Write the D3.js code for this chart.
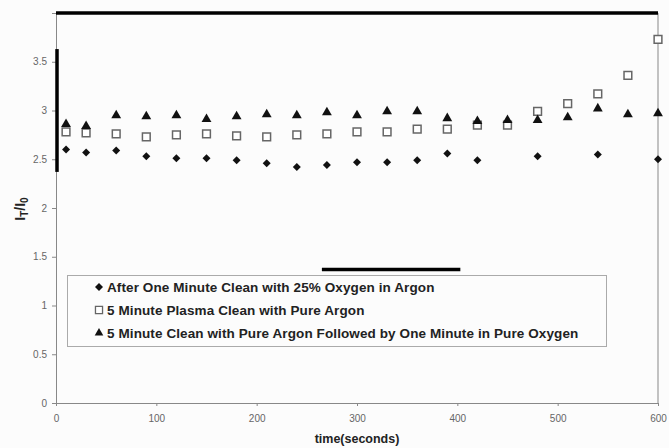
<!DOCTYPE html>
<html>
<head>
<meta charset="utf-8">
<script src="https://cdn.jsdelivr.net/npm/d3@7"></script>
<style>
   body { margin: 0; background: #fcfcfc; }
   svg { display: block; font-family: "Liberation Sans", Arial, sans-serif; }
</style>
</head>
<body>
<script>
"use strict"

// time (seconds) for each reading
const times = [10, 30, 60, 90, 120, 150, 180, 210, 240, 270, 300, 330, 360, 390, 420, 450, 480, 510, 540, 570, 600]
// null = no reading at that time
const oxygenArgon = [2.60, 2.57, 2.59, 2.53, 2.51, 2.51, 2.49, 2.46, 2.42, 2.44, 2.47, 2.47, 2.49, 2.56, 2.49, null, 2.53, null, 2.55, null, 2.50]
const pureArgon = [2.78, 2.77, 2.76, 2.73, 2.75, 2.76, 2.74, 2.73, 2.75, 2.76, 2.78, 2.78, 2.81, 2.81, 2.85, 2.85, 2.99, 3.07, 3.17, 3.36, 3.73]
const argonThenOxygen = [2.86, 2.84, 2.95, 2.94, 2.95, 2.91, 2.94, 2.96, 2.95, 2.98, 2.95, 2.99, 2.99, 2.92, 2.89, 2.90, 2.90, 2.93, 3.02, 2.96, 2.97]

const seriesNames = [
   'After One Minute Clean with 25% Oxygen in Argon',
   '5 Minute Plasma Clean with Pure Argon',
   '5 Minute Clean with Pure Argon Followed by One Minute in Pure Oxygen'
]
const xTicks = [0, 100, 200, 300, 400, 500, 600]
const yTicks = [0, 0.5, 1, 1.5, 2, 2.5, 3, 3.5]

const w = 669
const h = 448
const x_scale = d3.scaleLinear([0, 600], [56, 658])
const y_scale = d3.scaleLinear([0, 4], [403, 13])

let svg = d3.select('body')
   .append('svg')
      .attr('width', w)
      .attr('height', h)

// plot frame (right edge)
svg.append('line')
   .attr('x1', x_scale(600)).attr('x2', x_scale(600))
   .attr('y1', y_scale(4)).attr('y2', y_scale(0))
   .attr('stroke', '#888')

const x_axis = d3.axisBottom(x_scale).tickValues(xTicks).tickSize(3).tickPadding(9)
const y_axis = d3.axisLeft(y_scale).tickValues(yTicks).tickFormat(d => String(d)).tickSize(4).tickPadding(5)

svg.append('g')
   .attr('id', 'x-axis')
   .attr('transform', `translate(0, ${y_scale(0)})`)
   .call(x_axis)

svg.append('g')
   .attr('id', 'y-axis')
   .attr('transform', `translate(${x_scale(0)}, 0)`)
   .call(y_axis)

svg.selectAll('.domain').attr('stroke', '#888')
svg.selectAll('.tick line').attr('stroke', '#888')
svg.selectAll('.tick text')
   .attr('fill', '#666')
   .attr('font-size', 10)

// thick black strokes that sit on the picture
const bars = [
   { x1: 0, x2: 600, y1: 4, y2: 4 },
   { x1: 1, x2: 1, y1: 3.63, y2: 2.37 },
   { x1: 265, x2: 403, y1: 1.37, y2: 1.37 }
]
svg.selectAll('line.bar')
   .data(bars)
   .enter()
   .append('line')
      .attr('class', 'bar')
      .attr('x1', d => x_scale(d.x1))
      .attr('x2', d => x_scale(d.x2))
      .attr('y1', d => y_scale(d.y1))
      .attr('y2', d => y_scale(d.y2))
      .attr('stroke', '#000')
      .attr('stroke-width', 3.5)

const diamond = d3.symbol().type(d3.symbolSquare).size(32)
const square = d3.symbol().type(d3.symbolSquare).size(60)
const triangle = d3.symbol().type(d3.symbolTriangle).size(42)

function points(values, sym, cls, rot) {
   const data = times.map((t, i) => [t, values[i]]).filter(d => d[1] != null)
   let marks = svg.selectAll('path.' + cls)
      .data(data)
      .enter()
      .append('path')
         .attr('class', cls)
         .attr('d', sym)
         .attr('transform', d => `translate(${x_scale(d[0])}, ${y_scale(d[1])}) rotate(${rot})`)
   return marks
}

points(oxygenArgon, diamond, 's0', 45).attr('fill', '#111')
points(pureArgon, square, 's1', 0).attr('fill', '#fff').attr('stroke', '#666').attr('stroke-width', 1.5)
points(argonThenOxygen, triangle, 's2', 0).attr('fill', '#111')

// legend
let legend = svg.append('g')
legend.append('rect')
   .attr('x', 67.5).attr('y', 275.5)
   .attr('width', 539).attr('height', 71)
   .attr('fill', 'none')
   .attr('stroke', '#aaa')

const legendSyms = [[diamond, 45, '#111', 'none'], [square, 0, '#fff', '#666'], [triangle, 0, '#111', 'none']]
seriesNames.forEach((name, i) => {
   const cy = 287 + i * 23
   legend.append('path')
      .attr('d', legendSyms[i][0].size(i == 1 ? 50 : 32)())
      .attr('transform', `translate(99, ${cy}) rotate(${legendSyms[i][1]})`)
      .attr('fill', legendSyms[i][2])
      .attr('stroke', legendSyms[i][3])
      .attr('stroke-width', 1.3)
   legend.append('text')
      .attr('x', 107)
      .attr('y', cy + 5)
      .attr('font-size', 13.5)
      .attr('letter-spacing', 0.1)
      .attr('font-weight', 'bold')
      .attr('fill', '#222')
      .text(name)
})

// axis titles
svg.append('text')
   .attr('x', x_scale(300))
   .attr('y', 443)
   .attr('text-anchor', 'middle')
   .attr('font-size', 12.5)
   .attr('font-weight', 'bold')
   .attr('fill', '#222')
   .text('time(seconds)')

let ylab = svg.append('text')
   .attr('transform', 'translate(25, 209) rotate(-90)')
   .attr('text-anchor', 'middle')
   .attr('font-size', 14)
   .attr('font-weight', 'bold')
   .attr('fill', '#222')
ylab.append('tspan').text('I')
ylab.append('tspan').attr('font-size', 10).attr('dy', 3).text('T')
ylab.append('tspan').attr('dy', -3).text('/I')
ylab.append('tspan').attr('font-size', 10).attr('dy', 3).text('0')
</script>
</body>
</html>
